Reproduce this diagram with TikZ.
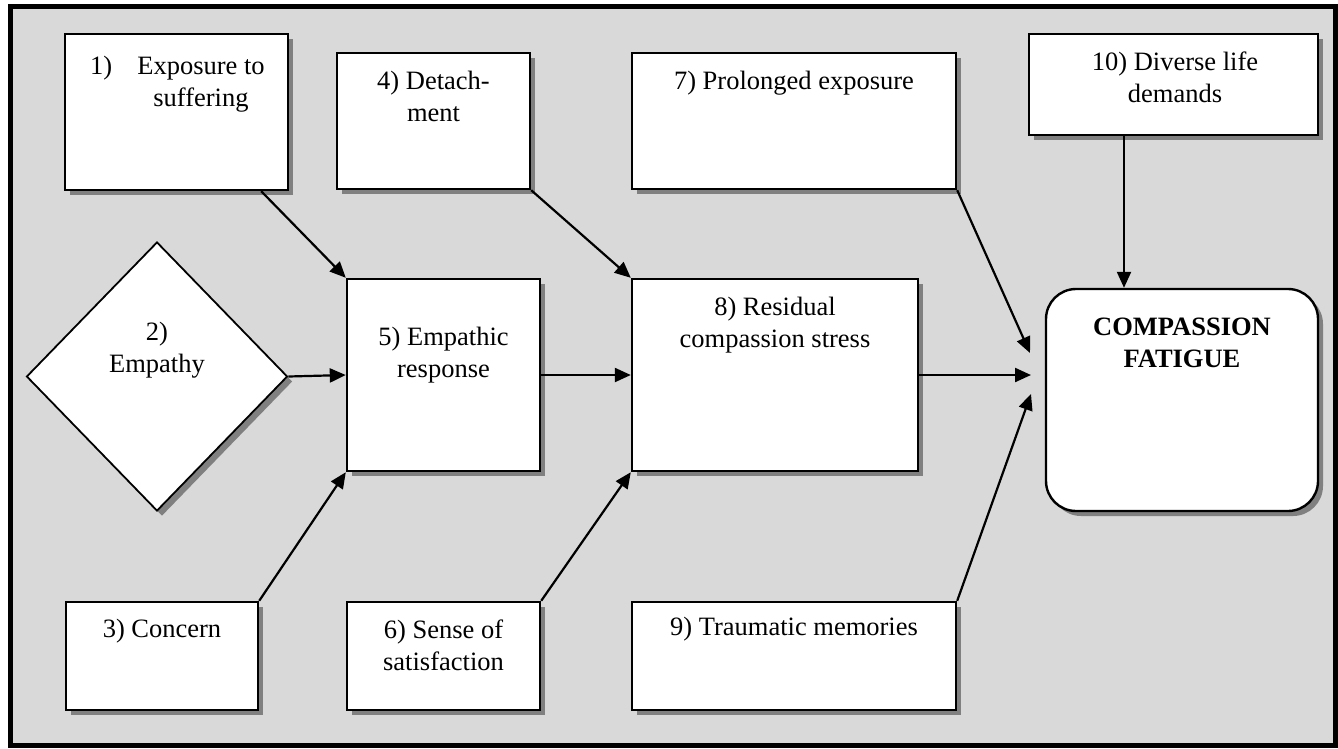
\documentclass[tikz,border=0pt]{standalone}
\usepackage{fontspec}
\setmainfont{Liberation Serif}
\usetikzlibrary{arrows.meta,shapes.geometric,shadows}
\definecolor{panelgray}{RGB}{217,217,217}
\definecolor{shadowgray}{RGB}{128,128,128}
% centred lines whose first baseline is the node's base anchor
\newcommand{\boxlines}[1]{\begin{tabular}[t]{@{}c@{}}#1\end{tabular}}

\begin{document}
\begin{tikzpicture}[x=1pt,y=-1pt,
  txt/.style={font=\fontsize{26.5}{32.5}\selectfont, inner sep=0pt, anchor=base},
  shade/.style={drop shadow={shadow xshift=5pt, shadow yshift=-5pt, fill=shadowgray, opacity=1}},
  box/.style={draw=black, line width=2.4pt, fill=white, rectangle, inner sep=0pt, shade},
  decision/.style={draw=black, line width=1.8pt, fill=white, diamond, inner sep=0pt, shade},
  goal/.style={draw=black, line width=2.4pt, fill=white, rectangle, rounded corners=30pt, inner sep=0pt, shade},
  arr/.style={line width=2.2pt, -{Triangle[length=16pt,width=14pt]}}]

% page and framed panel
\useasboundingbox (0,0) rectangle (1338,748);
\fill[white] (0,0) rectangle (1338,748);
\draw[line width=5pt, fill=panelgray] (10,6) rectangle (1335.5,745.5);

% boxes
\node[box, minimum width=223pt, minimum height=156pt] (b1) at (176.5,112) {};
\node[box, minimum width=193pt, minimum height=136pt] (b4) at (433.5,121) {};
\node[box, minimum width=324pt, minimum height=136pt] (b7) at (794,121) {};
\node[box, minimum width=289pt, minimum height=101pt] (b10) at (1173.5,84.5) {};
\node[decision, minimum width=261pt, minimum height=269pt] (d2) at (157,376.5) {};
\node[box, minimum width=193pt, minimum height=192pt] (b5) at (443.5,375) {};
\node[box, minimum width=286pt, minimum height=192pt] (b8) at (775,375) {};
\node[goal, minimum width=272pt, minimum height=222pt] (cf) at (1182,400) {};
\node[box, minimum width=192pt, minimum height=108pt] (b3) at (162,656) {};
\node[box, minimum width=193pt, minimum height=108pt] (b6) at (443.5,656) {};
\node[box, minimum width=324pt, minimum height=108pt] (b9) at (794,656) {};

% texts
\node[txt, anchor=base west] (t1n) at (90,74) {1)};
\node[txt] (t1) at (201,74) {\boxlines{Exposure to\\suffering}};
\node[txt] (t4) at (433.5,89) {\boxlines{4) Detach-\\ment}};
\node[txt] (t7) at (794,89) {7) Prolonged exposure};
\node[txt] (t10) at (1175,70) {\boxlines{10) Diverse life\\demands}};
\node[txt] (t2) at (157,340) {\boxlines{2)\\Empathy}};
\node[txt] (t5) at (443.5,345) {\boxlines{5) Empathic\\response}};
\node[txt] (t8) at (775,315) {\boxlines{8) Residual\\compassion stress}};
\node[txt] (tcf) at (1182,335) {\boxlines{\bfseries COMPASSION\\\bfseries FATIGUE}};
\node[txt] (t3) at (162,637) {3) Concern};
\node[txt] (t6) at (443.5,638) {\boxlines{6) Sense of\\satisfaction}};
\node[txt] (t9) at (794,635) {9) Traumatic memories};

% free arrow ends in front of the goal box
\coordinate (in1) at (1030,353);
\coordinate (in2) at (1031,375);
\coordinate (in3) at (1031,394);

% connectors
\draw[arr] ([xshift=-28pt]b1.south east) -- (b5.north west);
\draw[arr] (d2.east) -- (b5.west);
\draw[arr] (b3.north east) -- (b5.south west);
\draw[arr] (b4.south east) -- (b8.north west);
\draw[arr] (b5.east) -- (b8.west);
\draw[arr] (b6.north east) -- (b8.south west);
\draw[arr] (b7.south east) -- (in1);
\draw[arr] (b8.east) -- (in2);
\draw[arr] (b9.north east) -- (in3);
\draw[arr] ([xshift=-49.5pt]b10.south) -- ([xshift=-58pt]cf.north);
\end{tikzpicture}
\end{document}
